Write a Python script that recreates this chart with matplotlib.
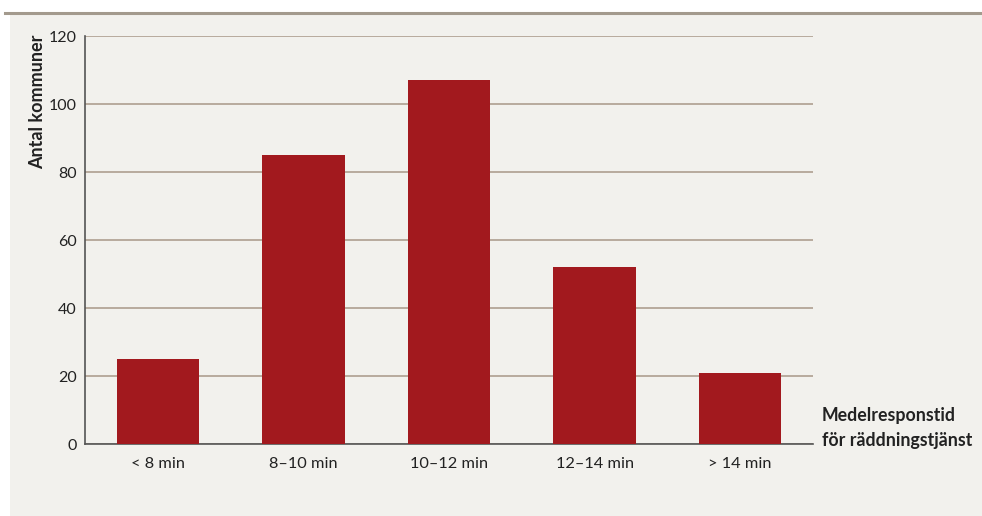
import matplotlib.pyplot as plt

categories = ["< 8 min", "8–10 min", "10–12 min", "12–14 min", "> 14 min"]
antal = [25, 85, 107, 52, 21]
yticks = [0, 20, 40, 60, 80, 100, 120]

bg = "#f2f1ed"
red = "#a2191e"
grid = "#a89888"

plt.rcParams['font.family'] = ['Lato', 'DejaVu Sans']

fig = plt.figure(figsize=(9.82, 5.16), dpi=100)
fig.patch.set_facecolor("white")

# light panel behind the chart, drawn as its own axes below the chart
panel = fig.add_axes([10 / 982, 0, 1, 1 - 14 / 516], zorder=-1)
panel.set_facecolor(bg)
panel.set_axis_off()
panel.add_patch(plt.Rectangle((0, 0), 1, 1, transform=panel.transAxes,
                              facecolor=bg, edgecolor="none"))
fig.add_artist(plt.Line2D([5 / 982, 1], [1 - 12.5 / 516, 1 - 12.5 / 516],
                          transform=fig.transFigure, color="#a39a8d", lw=2.2))

ax = fig.add_axes([85 / 982, 72 / 516, 728 / 982, 408 / 516])
ax.set_facecolor("none")

x = range(len(categories))
ax.bar(x, antal, width=0.565, color=red, zorder=3)

ax.set_xlim(-0.5, 4.5)
ax.set_ylim(0, 120)
ax.set_yticks(yticks)
ax.set_yticklabels([str(v) for v in yticks], fontsize=11.5, color="#222222")
ax.set_xticks(list(x))
ax.set_xticklabels(categories, fontsize=11.8, color="#222222")
ax.tick_params(axis="both", length=0)
ax.tick_params(axis="y", pad=6)
ax.tick_params(axis="x", pad=9)

ax.yaxis.grid(True, color=grid, lw=1.1, zorder=1)
ax.set_axisbelow(True)

for s in ["top", "right"]:
    ax.spines[s].set_visible(False)
ax.spines["left"].set_color("#555555")
ax.spines["bottom"].set_color("#555555")
ax.spines["left"].set_linewidth(1.2)
ax.spines["bottom"].set_linewidth(1.2)

fig.text(38 / 982, 1 - 35 / 516, "Antal kommuner", rotation=90,
         ha="center", va="top", fontsize=13, fontweight="bold", color="#222222")
fig.text(822 / 982, 1 - 428 / 516, "Medelresponstid\nför räddningstjänst",
         ha="left", va="center", fontsize=12.8, fontweight="bold",
         color="#222222", linespacing=1.55)

plt.savefig("out.png", dpi=100, facecolor=fig.get_facecolor())
